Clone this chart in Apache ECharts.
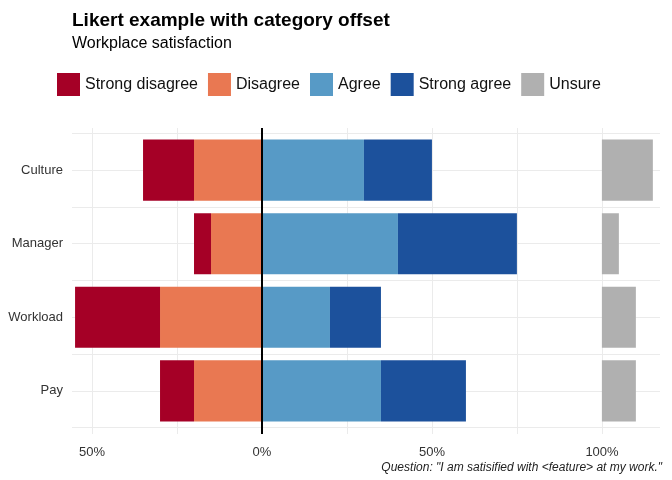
<!DOCTYPE html>
<html>
<head>
<meta charset="utf-8">
<title>Likert example with category offset</title>
<script src="https://cdn.jsdelivr.net/npm/echarts@6/dist/echarts.min.js"></script>
<style>
  html, body { margin: 0; padding: 0; background: #fff; }
  #chart { width: 672px; height: 480px; }
</style>
</head>
<body>
<div id="chart"></div>
<script>
// data (percent of answers)
var categories = ['Culture', 'Manager', 'Workload', 'Pay'];
var strongDisagree = [15, 5, 25, 10];
var disagree = [20, 15, 30, 20];
var agree = [30, 40, 20, 35];
var strongAgree = [20, 35, 15, 25];
var unsure = [15, 5, 10, 10];
var unsureOffset = 100; // unsure bars start at 100%
var xTicks = [-50, -25, 0, 25, 50, 75, 100];
var levels = ['Strong disagree', 'Disagree', 'Agree', 'Strong agree', 'Unsure'];
var colors = ['#A50026', '#E97852', '#579AC6', '#1C519C', '#B0B0B0'];

var font = '"Liberation Sans", Arial, Helvetica, sans-serif';
var gridColor = '#EBEBEB';

function neg(arr) {
    return arr.map(function (v) { return -v; });
}

// bar series share width and overlap the offset stack on the same slot
function barSeries(name, data, stack, color) {
    return {
        name: name,
        type: 'bar',
        xAxisIndex: 1,
        yAxisIndex: 1,
        stack: stack,
        barWidth: '83%',
        barGap: '-100%',
        data: data,
        itemStyle: { color: color },
        emphasis: { disabled: true }
    };
}

var myChart = echarts.init(document.getElementById('chart'));
var option = {
    animation: false,
    textStyle: { fontFamily: font },
    title: [
        {
            text: 'Likert example with category offset',
            left: 72, top: 11, padding: 0,
            textStyle: { fontSize: 19, fontWeight: 'bold', color: '#000', fontFamily: font, lineHeight: 20 }
        },
        {
            text: 'Workplace satisfaction',
            left: 72, top: 35, padding: 0,
            textStyle: { fontSize: 16, fontWeight: 'normal', color: '#000', fontFamily: font, lineHeight: 18 }
        },
        {
            text: 'Question: "I am satisified with <feature> at my work."',
            right: 10, top: 461, padding: 0,
            textStyle: { fontSize: 12, fontWeight: 'normal', fontStyle: 'italic', color: '#222', fontFamily: font, lineHeight: 14 }
        }
    ],
    legend: {
        data: levels,
        left: 57,
        top: 73,
        padding: 0,
        itemWidth: 23,
        itemHeight: 23,
        itemGap: 10,
        icon: 'rect',
        selectedMode: false,
        textStyle: { fontSize: 16, color: '#111', fontFamily: font }
    },
    grid: [
        // panel: vertical grid lines, zero line, x labels
        { left: 92, right: 70, top: 128, bottom: 46 },
        // bars and horizontal grid lines
        { left: 72, right: 12, top: 133.3, bottom: 52.3 }
    ],
    xAxis: [
        {
            gridIndex: 0,
            type: 'value',
            min: xTicks[0],
            max: xTicks[xTicks.length - 1],
            interval: 25,
            axisLine: { show: false },
            axisTick: { show: false },
            axisLabel: {
                fontSize: 13,
                color: '#333',
                margin: 12,
                fontFamily: font,
                formatter: function (v) {
                    return v % 50 === 0 ? Math.abs(v) + '%' : '';
                }
            },
            splitLine: { show: true, lineStyle: { color: gridColor, width: 1 } }
        },
        {
            gridIndex: 1,
            type: 'value',
            min: -55.9,
            max: 117.1,
            show: false,
            splitLine: { show: false }
        }
    ],
    yAxis: [
        {
            gridIndex: 0,
            type: 'value',
            min: 0,
            max: 1,
            show: false,
            splitLine: { show: false }
        },
        {
            gridIndex: 1,
            type: 'category',
            data: categories,
            inverse: true,
            axisLine: { show: false },
            axisTick: { show: false },
            splitLine: { show: false },
            axisLabel: { fontSize: 13, color: '#333', margin: 9, fontFamily: font }
        },
        {
            // half-band grid lines across the bar grid
            gridIndex: 1,
            type: 'value',
            min: 0,
            max: categories.length * 2,
            interval: 1,
            axisLine: { show: false },
            axisTick: { show: false },
            axisLabel: { show: false },
            splitLine: { show: true, lineStyle: { color: gridColor, width: 1 } }
        }
    ],
    series: [
        {
            name: 'zero',
            type: 'line',
            xAxisIndex: 0,
            yAxisIndex: 0,
            data: [],
            z: 10,
            markLine: {
                silent: true,
                symbol: 'none',
                label: { show: false },
                lineStyle: { color: '#000', width: 2, type: 'solid' },
                data: [{ xAxis: 0 }]
            }
        },
        // negative side: closest to zero first
        barSeries('Disagree', neg(disagree), 'likert', colors[1]),
        barSeries('Strong disagree', neg(strongDisagree), 'likert', colors[0]),
        barSeries('Agree', agree, 'likert', colors[2]),
        barSeries('Strong agree', strongAgree, 'likert', colors[3]),
        // invisible offset, then unsure on top of it
        (function () {
            var s = barSeries('offset', categories.map(function () { return unsureOffset; }), 'unsure', 'rgba(0,0,0,0)');
            s.silent = true;
            return s;
        })(),
        barSeries('Unsure', unsure, 'unsure', colors[4])
    ]
};
myChart.setOption(option);
</script>
</body>
</html>
